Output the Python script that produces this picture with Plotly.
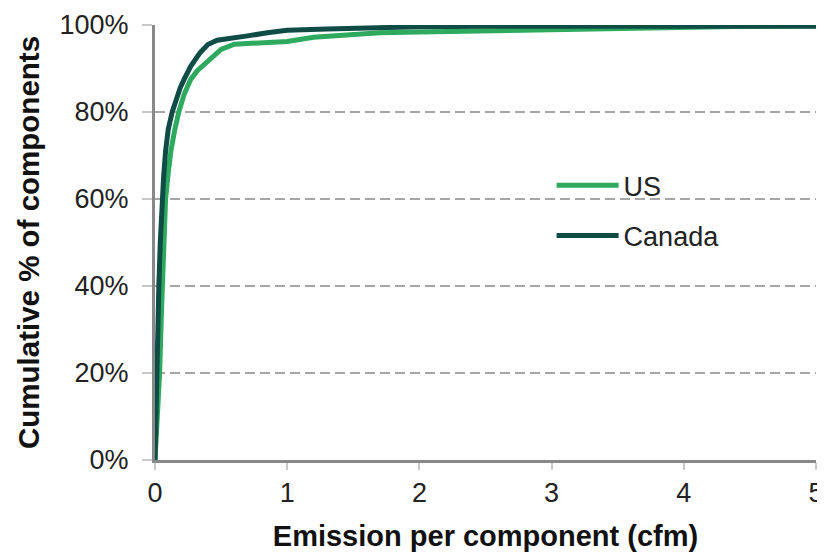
import plotly.graph_objects as go

# Cumulative distribution of emission per component (cfm)
us_x = [0, 0.01, 0.02, 0.035, 0.05, 0.065, 0.08, 0.1, 0.12, 0.15, 0.18, 0.22, 0.27,
        0.32, 0.39, 0.45, 0.5, 0.6, 0.8, 1.0, 1.2, 1.4, 1.7, 2.0, 2.5, 3.0, 3.5, 4.0, 4.5, 5.0]
us_y = [0, 5, 12, 20, 35, 48, 60, 66, 71, 76, 80, 84, 87.5,
        89.5, 91.5, 93.2, 94.4, 95.6, 95.9, 96.2, 97.2, 97.7, 98.2, 98.4, 98.7, 98.9, 99.2, 99.5, 99.7, 99.8]

canada_x = [0, 0.005, 0.011, 0.02, 0.029, 0.04, 0.054, 0.065, 0.08, 0.1, 0.13, 0.16, 0.19,
            0.22, 0.27, 0.34, 0.4, 0.47, 0.6, 0.7, 0.85, 1.0, 1.3, 1.6, 2.0, 2.5, 3.0, 4.0, 5.0]
canada_y = [0, 8, 20, 30, 40, 50, 60, 65, 71, 76, 80, 83, 85.5,
            87.5, 90.5, 93.6, 95.5, 96.5, 97.2, 97.5, 98.2, 98.8, 99.1, 99.4, 99.6, 99.7, 99.7, 99.7, 99.7]

x_ticks = [0, 1, 2, 3, 4, 5]
y_ticks = [0, 20, 40, 60, 80, 100]

FONT = "Liberation Sans, Arial, sans-serif"

fig = go.Figure()
fig.add_trace(go.Scatter(x=us_x, y=us_y, mode="lines", name="US", legendgroup="us",
                         line=dict(color="#2daa5e", width=5)))
fig.add_trace(go.Scatter(x=canada_x, y=canada_y, mode="lines", name="Canada", legendgroup="ca",
                         line=dict(color="#0f4c45", width=5)))

# the page body adds an 8px margin, so the figure is sized to fit inside it
fig.update_layout(
    width=817, height=544,
    margin=dict(l=147, r=9, t=17, b=92, autoexpand=False),
    paper_bgcolor="white", plot_bgcolor="white",
    font=dict(family=FONT, size=27, color="#222222"),
    legend=dict(x=0.6, y=0.573, xanchor="left", yanchor="middle",
                bgcolor="rgba(0,0,0,0)", font=dict(size=27, color="#222222"),
                itemwidth=62, tracegroupgap=12, traceorder="grouped"),
    xaxis=dict(
        range=[0, 5], tickvals=x_ticks, ticktext=[str(v) for v in x_ticks],
        showgrid=False, zeroline=False, automargin=False,
        showline=True, linecolor="#888888", linewidth=3,
        ticks="outside", ticklen=7, tickwidth=2, tickcolor="#c8c8c8",
        ticklabelstandoff=0,
        title=dict(text="<b>Emission per component (cfm)</b>", font=dict(size=29, color="#111111"), standoff=23),
    ),
    yaxis=dict(
        range=[0, 100], tickvals=y_ticks, ticktext=[f"{v}%" for v in y_ticks],
        showgrid=True, gridcolor="#a6a6a6", gridwidth=2, griddash="10px,5px",
        zeroline=False, automargin=False,
        showline=True, linecolor="#888888", linewidth=3,
        ticks="outside", ticklen=10, tickwidth=2, tickcolor="#c8c8c8",
        ticklabelstandoff=8,
        title=dict(text="<b>Cumulative % of components</b>", font=dict(size=29.5, color="#111111"), standoff=12),
    ),
)

fig.write_html("out.html")
